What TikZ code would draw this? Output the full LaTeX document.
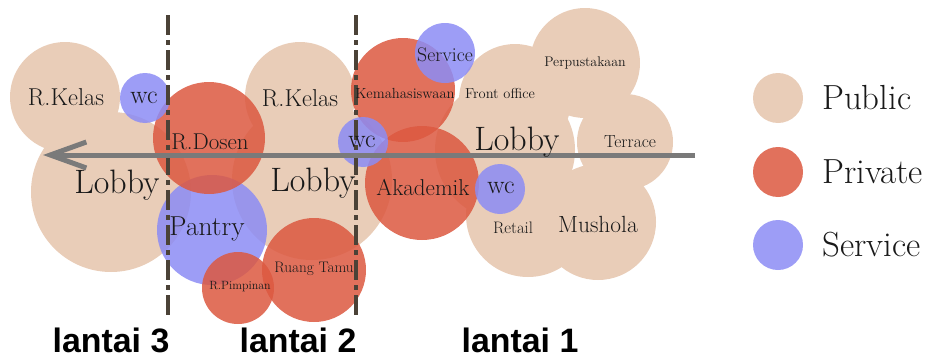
\documentclass[tikz,border=0pt]{standalone}
\usepackage{fontspec}
\newfontfamily\lantaifont{Liberation Sans}
\usepackage{tikz}
\usetikzlibrary{arrows.meta,shapes}

\definecolor{pubcol}{HTML}{E9CDB8}
\definecolor{privcol}{HTML}{DC5840}
\definecolor{servcol}{HTML}{8C8CF5}
\definecolor{sepcol}{HTML}{4B4237}
\definecolor{flowcol}{HTML}{7A7A7A}

\tikzset{
  pub/.style={circle,inner sep=0pt,fill=pubcol},
  priv/.style={circle,inner sep=0pt,fill=privcol,fill opacity=0.85},
  serv/.style={circle,inner sep=0pt,fill=servcol,fill opacity=0.85},
  room/.style={inner sep=0pt,text=black!90,font=\fontsize{#1}{#1}\selectfont},
  floorsep/.style={draw=sepcol,line width=4bp,dash pattern=on 20bp off 5bp on 5bp off 5bp},
  flow/.style={draw=flowcol,line width=5bp,-{Straight Barb[length=36bp,width=26bp]}},
  lantai/.style={inner sep=0pt,anchor=base,font=\lantaifont\bfseries\fontsize{34}{34}\selectfont}
}

\begin{document}
\begin{tikzpicture}
\useasboundingbox (0,0) rectangle (930bp,-360bp);
% public rooms
\node (kelasC) at (65bp,-97bp)[pub,minimum size=110bp] {};
\node (lobbyC) at (111bp,-192bp)[pub,minimum size=160bp] {};
\node (kelasB) at (300bp,-97bp)[pub,minimum size=110bp] {};
\node (lobbyB) at (312bp,-180bp)[pub,minimum size=160bp] {};
\node (frontA) at (515bp,-100bp)[pub,minimum size=112bp] {};
\node (perpusA) at (585bp,-63bp)[pub,minimum size=110bp] {};
\node (terraceA) at (625bp,-142bp)[pub,minimum size=96bp] {};
\node (lobbyA) at (505bp,-150bp)[pub,minimum size=140bp] {};
\node (retailA) at (528bp,-215bp)[pub,minimum size=124bp] {};
\node (musholaA) at (598bp,-222bp)[pub,minimum size=116bp] {};
% pantry, private rooms
\node (pantryC) at (212bp,-230bp)[serv,minimum size=110bp] {};
\node (dosenC) at (209bp,-138bp)[priv,minimum size=112bp] {};
\node (pimpinanB) at (238bp,-288bp)[priv,minimum size=72bp] {};
\node (tamuB) at (314bp,-270bp)[priv,minimum size=104bp] {};
\node (mhsA) at (403bp,-90bp)[priv,minimum size=104bp] {};
\node (akademikA) at (422bp,-183bp)[priv,minimum size=114bp] {};
% service rooms
\node (wcC) at (145bp,-98bp)[serv,minimum size=50bp] {};
\node (wcB) at (363bp,-142bp)[serv,minimum size=50bp] {};
\node (wcA) at (500bp,-189bp)[serv,minimum size=50bp] {};
\node (serviceA) at (445bp,-53bp)[serv,minimum size=60bp] {};
% floor borders
\coordinate (sepCtop) at (168bp,-15bp);
\coordinate (sepCbot) at (168bp,-318bp);
\coordinate (sepBtop) at (356bp,-15bp);
\coordinate (sepBbot) at (356bp,-318bp);
\draw[floorsep] (sepCtop) -- (sepCbot);
\draw[floorsep] (sepBtop) -- (sepBbot);
% circulation
\coordinate (flowS) at (695bp,-155bp);
\coordinate (flowE) at (43bp,-155bp);
\draw[flow] (flowS) -- (flowE);
% labels
\node (tkelasC) at (66bp,-97bp)[room=24.5] {R.Kelas};
\node (twcC) at (144bp,-98bp)[room=26] {wc};
\node (tdosenC) at (210bp,-142bp)[room=23] {R.Dosen};
\node (tlobbyC) at (117bp,-185bp)[room=34] {Lobby};
\node (tpantryC) at (207bp,-229bp)[room=27.5] {Pantry};
\node (tpimpinanB) at (240bp,-287bp)[room=12] {R.Pimpinan};
\node (ttamuB) at (314bp,-269bp)[room=15.3] {Ruang Tamu};
\node (tkelasB) at (300bp,-98bp)[room=24.5] {R.Kelas};
\node (tlobbyB) at (313bp,-183bp)[room=34] {Lobby};
\node (tmhsA) at (405bp,-93bp)[room=14.7] {Kemahasiswaan};
\node (tserviceA) at (445bp,-55bp)[room=19.8] {Service};
\node (tfrontA) at (500bp,-93bp)[room=14.5] {Front office};
\node (tperpusA) at (585bp,-63bp)[room=14] {Perpustakaan};
\node (twcB) at (362bp,-142bp)[room=26] {wc};
\node (tlobbyA) at (517bp,-142bp)[room=34] {Lobby};
\node (tterraceA) at (630bp,-142bp)[room=17.5] {Terrace};
\node (takademikA) at (423bp,-187bp)[room=23] {Akademik};
\node (twcA) at (501bp,-188bp)[room=26] {wc};
\node (tretailA) at (513bp,-228bp)[room=16.7] {Retail};
\node (tmusholaA) at (598bp,-224bp)[room=23.5] {Mushola};
% legend
\node (keyPub) at (778bp,-98bp)[pub,minimum size=50bp] {};
\node (keyPriv) at (778bp,-172bp)[priv,minimum size=50bp] {};
\node (keyServ) at (778bp,-245bp)[serv,minimum size=50bp] {};
\node (tkeyPub) at (822bp,-98bp)[room=35,anchor=west] {Public};
\node (tkeyPriv) at (822bp,-172bp)[room=35,anchor=west] {Private};
\node (tkeyServ) at (822bp,-245bp)[room=35,anchor=west] {Service};
% floors
\node (lantaiC) at (111bp,-352bp)[lantai] {lantai 3};
\node (lantaiB) at (298bp,-352bp)[lantai] {lantai 2};
\node (lantaiA) at (520bp,-352bp)[lantai] {lantai 1};
\end{tikzpicture}
\end{document}
